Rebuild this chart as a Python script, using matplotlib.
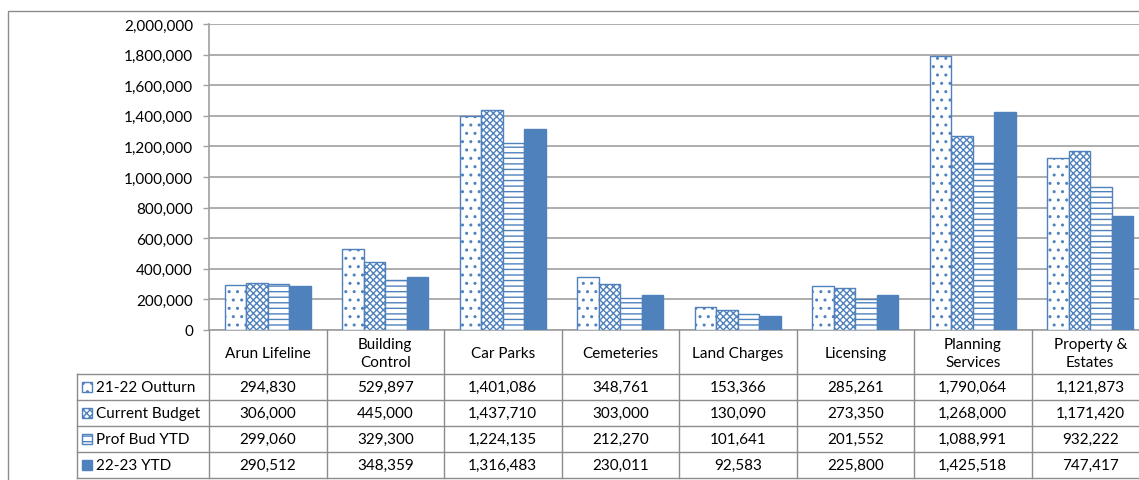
import numpy as np
import matplotlib.pyplot as plt
from matplotlib.patches import Rectangle
from matplotlib.ticker import FuncFormatter

plt.rcParams['font.family'] = ['Lato', 'DejaVu Sans']
plt.rcParams['hatch.linewidth'] = 1.0

categories = ['Arun Lifeline', 'Building\nControl', 'Car Parks', 'Cemeteries',
              'Land Charges', 'Licensing', 'Planning\nServices', 'Property &\nEstates']
series = ['21-22 Outturn', 'Current Budget', 'Prof Bud YTD', '22-23 YTD']
outturn = [294830, 529897, 1401086, 348761, 153366, 285261, 1790064, 1121873]
budget = [306000, 445000, 1437710, 303000, 130090, 273350, 1268000, 1171420]
prof_bud = [299060, 329300, 1224135, 212270, 101641, 201552, 1088991, 932222]
ytd = [290512, 348359, 1316483, 230011, 92583, 225800, 1425518, 747417]
values = [outturn, budget, prof_bud, ytd]

blue = '#4F81BD'
grid = '#A0A0A0'
styles = [('white', '..'), ('white', 'xxxxx'), ('white', '---'), (blue, None)]

W, H = 1139, 481
fig = plt.figure(figsize=(W / 100, H / 100), dpi=100)

# outer chart border (cropped on the right and bottom)
fig.patches.append(Rectangle((8 / W, -0.1), 1.2, 1.1 - 12 / H, transform=fig.transFigure,
                             fill=False, edgecolor='#8C8C8C', linewidth=1.0))

left, right = 209 / W, 1149 / W
ax = fig.add_axes([left, (H - 331) / H, right - left, (331 - 25) / H])

x = np.arange(len(categories))
bw = 0.184
for i, (vals, (fc, hatch)) in enumerate(zip(values, styles)):
    ax.bar(x + (i - 1.5) * bw, vals, width=bw, color=fc, edgecolor=blue,
           hatch=hatch, linewidth=1.0, zorder=3)

ax.set_xlim(-0.5, 7.5)
ax.set_ylim(0, 2000000)
ax.set_yticks(np.arange(0, 2000001, 200000))
ax.yaxis.set_major_formatter(FuncFormatter(lambda v, p: '{:,.0f}'.format(v)))
ax.set_xticks([])
ax.yaxis.grid(True, color=grid, linewidth=1.2, zorder=0)
ax.tick_params(axis='y', length=4.5, width=1.0, color=grid, pad=7, labelsize=11,
               labelcolor='black')
for s in ['top', 'right']:
    ax.spines[s].set_visible(False)
for s in ['left', 'bottom']:
    ax.spines[s].set_color(grid)
    ax.spines[s].set_linewidth(1.2)

# data table below the chart
tab = fig.add_axes([left, (H - 479) / H, right - left, (479 - 331) / H])
tab.set_xlim(-0.5, 7.5)
tab.set_ylim(148, 0)
tab.axis('off')
lc = '#8C8C8C'
xl = -0.5 - (209 - 77) / 117.5
rows = [44, 70, 96, 122, 148]
for k in range(len(categories) + 1):
    tab.plot([k - 0.5, k - 0.5], [0, 148], color=lc, lw=1.0, clip_on=False)
tab.plot([xl, xl], [44, 148], color=lc, lw=1.0, clip_on=False)
for r in rows:
    tab.plot([xl, 7.6], [r, r], color=lc, lw=1.0, clip_on=False)

for i, c in enumerate(categories):
    tab.text(i, 23, c, ha='center', va='center', fontsize=11, linespacing=1.4)

for j, (name, vals, (fc, hatch)) in enumerate(zip(series, values, styles)):
    yc = rows[j] + 13
    tab.add_patch(Rectangle((-0.5 - 127 / 117.5, yc - 5), 10 / 117.5, 10, facecolor=fc,
                            edgecolor=blue, hatch=hatch, lw=1.0, clip_on=False))
    tab.text(-0.5 - 113 / 117.5, yc, name, ha='left', va='center', fontsize=11)
    for i, v in enumerate(vals):
        tab.text(i, yc, '{:,}'.format(v), ha='center', va='center', fontsize=11)

fig.savefig('out.png', dpi=100)
